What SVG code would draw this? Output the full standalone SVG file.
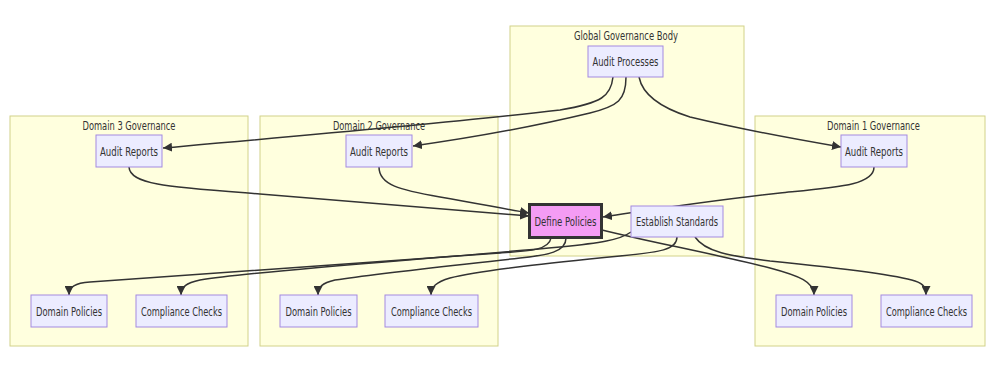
<svg xmlns="http://www.w3.org/2000/svg" width="986" height="389" viewBox="0 0 986 389">
<style>
.cluster{fill:#ffffde;stroke:#d2d28a;stroke-width:1}
.node{fill:#ececff;stroke:#a38ae0;stroke-width:1}
.hl{fill:#f49cf4;stroke:#333;stroke-width:3}
.t{font-family:"DejaVu Sans Condensed","DejaVu Sans",sans-serif;font-size:13px;fill:#333;text-anchor:middle}
.e{fill:none;stroke:#333;stroke-width:1.5}
</style>
<defs>
<marker id="arr" viewBox="0 0 10 10" refX="10" refY="5" markerUnits="userSpaceOnUse" markerWidth="9" markerHeight="9" orient="auto">
<path d="M0,0 L10,5 L0,10 z" fill="#333"/>
</marker>
</defs>
<rect width="986" height="389" fill="#ffffff"/>
<g id="clusters">
<g id="cluster-global"><rect class="cluster" x="510" y="26" width="234" height="230"/><text class="t" x="626" y="40" textLength="104" lengthAdjust="spacingAndGlyphs">Global Governance Body</text></g>
<g id="cluster-d3"><rect class="cluster" x="10" y="116" width="238" height="230"/><text class="t" x="129" y="130" textLength="93" lengthAdjust="spacingAndGlyphs">Domain 3 Governance</text></g>
<g id="cluster-d2"><rect class="cluster" x="260" y="116" width="238" height="230"/><text class="t" x="379" y="130" textLength="92" lengthAdjust="spacingAndGlyphs">Domain 2 Governance</text></g>
<g id="cluster-d1"><rect class="cluster" x="755" y="116" width="230" height="230"/><text class="t" x="873.5" y="130" textLength="93" lengthAdjust="spacingAndGlyphs">Domain 1 Governance</text></g>
</g>
<g id="connectors">
<path class="e" marker-end="url(#arr)" d="M613,77 C611,96 602,103 560,110 C450,123 300,136 163,148"/>
<path class="e" marker-end="url(#arr)" d="M626,77 C626,100 618,106 590,113 C540,125 470,138 413,146"/>
<path class="e" marker-end="url(#arr)" d="M639,77 C642,92 655,106 690,117 C740,129 800,140 841,147"/>
<path class="e" marker-end="url(#arr)" d="M129,167 C130,185 170,187 260,194 C380,204 460,210 529,216"/>
<path class="e" marker-end="url(#arr)" d="M379,167 C379,185 400,190 440,197 C480,204 505,209 529,213"/>
<path class="e" marker-end="url(#arr)" d="M874,167 C874,185 840,187 780,193 C700,202 650,210 603,217"/>
<path class="e" marker-end="url(#arr)" d="M551,238 C549,250 530,251 500,253 C350,264 200,274 90,282 C75,283 69,287 69,295"/>
<path class="e" marker-end="url(#arr)" d="M566,238 C566,252 548,255 520,258 C450,266 380,273 335,280 C322,283 318,287 318,295"/>
<path class="e" marker-end="url(#arr)" d="M631,232 C620,240 600,243 560,247 C420,260 260,270 200,280 C186,283 181,287 181,295"/>
<path class="e" marker-end="url(#arr)" d="M677,237 C677,250 660,252 620,256 C560,262 480,270 450,278 C436,282 431,287 431,295"/>
<path class="e" marker-end="url(#arr)" d="M602,230 C640,240 720,255 770,268 C800,276 814,282 814,295"/>
<path class="e" marker-end="url(#arr)" d="M695,237 C705,252 730,256 770,261 C840,268 900,276 915,281 C924,284 926,288 926,295"/>
</g>
<g id="node-audit-processes"><rect class="node" x="588" y="46" width="75" height="31"/><text class="t" x="625.5" y="66" textLength="66" lengthAdjust="spacingAndGlyphs">Audit Processes</text></g>
<g id="node-d3-audit"><rect class="node" x="96" y="135" width="66" height="32"/><text class="t" x="129" y="155.5" textLength="58" lengthAdjust="spacingAndGlyphs">Audit Reports</text></g>
<g id="node-d2-audit"><rect class="node" x="346" y="135" width="66" height="32"/><text class="t" x="379" y="155.5" textLength="58" lengthAdjust="spacingAndGlyphs">Audit Reports</text></g>
<g id="node-d1-audit"><rect class="node" x="841" y="135" width="66" height="32"/><text class="t" x="874" y="155.5" textLength="58" lengthAdjust="spacingAndGlyphs">Audit Reports</text></g>
<g id="node-establish"><rect class="node" x="631" y="206" width="92" height="31"/><text class="t" x="677" y="226" textLength="82" lengthAdjust="spacingAndGlyphs">Establish Standards</text></g>
<g id="node-define"><rect class="hl" x="529.5" y="204.5" width="72" height="33"/><text class="t" x="565.5" y="225.5" textLength="62" lengthAdjust="spacingAndGlyphs">Define Policies</text></g>
<g id="node-d3-policies"><rect class="node" x="31" y="295" width="76" height="32"/><text class="t" x="69" y="315.5" textLength="66" lengthAdjust="spacingAndGlyphs">Domain Policies</text></g>
<g id="node-d3-checks"><rect class="node" x="136" y="295" width="91" height="32"/><text class="t" x="181.5" y="315.5" textLength="81" lengthAdjust="spacingAndGlyphs">Compliance Checks</text></g>
<g id="node-d2-policies"><rect class="node" x="280" y="295" width="77" height="32"/><text class="t" x="318.5" y="315.5" textLength="66" lengthAdjust="spacingAndGlyphs">Domain Policies</text></g>
<g id="node-d2-checks"><rect class="node" x="385" y="295" width="93" height="32"/><text class="t" x="431.5" y="315.5" textLength="81" lengthAdjust="spacingAndGlyphs">Compliance Checks</text></g>
<g id="node-d1-policies"><rect class="node" x="776" y="295" width="76" height="32"/><text class="t" x="814" y="315.5" textLength="66" lengthAdjust="spacingAndGlyphs">Domain Policies</text></g>
<g id="node-d1-checks"><rect class="node" x="881" y="295" width="91" height="32"/><text class="t" x="926.5" y="315.5" textLength="81" lengthAdjust="spacingAndGlyphs">Compliance Checks</text></g>
</svg>
